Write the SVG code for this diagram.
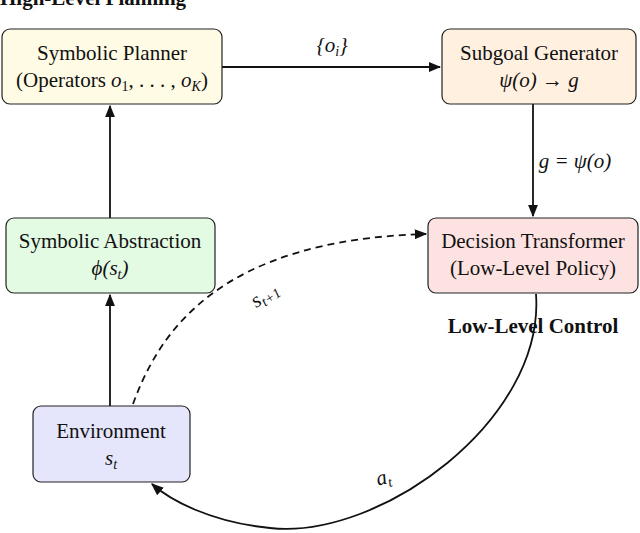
<svg xmlns="http://www.w3.org/2000/svg" width="640" height="533" viewBox="0 0 640 533">
<style>
.box{stroke:#222;stroke-width:1.2}
.t{font-family:"Liberation Serif",serif;font-size:21px;text-anchor:middle;fill:#111}
.m{font-style:italic}
.b{font-family:"Liberation Serif",serif;font-size:21px;font-weight:bold;fill:#111}
.c{fill:none;stroke:#111;stroke-width:1.8}
</style>
<defs><marker id="a" viewBox="0 0 10 10" refX="9" refY="5" markerWidth="7" markerHeight="7" orient="auto-start-reverse"><path d="M0,1 L10,5 L0,9 z" fill="#111"/></marker></defs>
<rect width="640" height="533" fill="#fff"/>
<text class="b" x="0" y="5">High-Level Planning</text>
<text class="b" x="533" y="333" text-anchor="middle">Low-Level Control</text>
<g id="connectors">
<line class="c" x1="222" y1="67" x2="440" y2="67" marker-end="url(#a)"/>
<line class="c" x1="533" y1="104" x2="533" y2="216" marker-end="url(#a)"/>
<line class="c" x1="110" y1="218" x2="110" y2="106" marker-end="url(#a)"/>
<line class="c" x1="110" y1="406" x2="110" y2="295" marker-end="url(#a)"/>
<path class="c" d="M133,404 C160,330 220,240 426,234" stroke-dasharray="7,5" marker-end="url(#a)"/>
<path class="c" d="M536,294 C545,420 380,540 270,528 C210,522 170,500 152,484" marker-end="url(#a)"/>
<text class="t m" x="332" y="52">{o<tspan font-size="14" dy="4">i</tspan><tspan dy="-4">}</tspan></text>
<text class="t m" x="575" y="168">g = ψ(o)</text>
<text class="t m" x="268" y="300" transform="rotate(-35 268 300)">s<tspan font-size="14" dy="4">t+1</tspan></text>
<text class="t m" x="385" y="484" transform="rotate(-15 385 484)">a<tspan font-size="14" dy="4">t</tspan></text>
</g>
<g id="planner"><rect class="box" x="2" y="29" width="220" height="75" rx="8" fill="#fffbe5"/>
<text class="t" x="112" y="60">Symbolic Planner</text>
<text class="t" x="112" y="87">(Operators <tspan class="m">o</tspan><tspan font-size="14" dy="4">1</tspan><tspan dy="-4">, . . . , </tspan><tspan class="m">o</tspan><tspan font-size="14" dy="4" class="m">K</tspan><tspan dy="-4">)</tspan></text></g>
<g id="subgoal"><rect class="box" x="442" y="29" width="194" height="75" rx="8" fill="#fff0e0"/>
<text class="t" x="539" y="60">Subgoal Generator</text>
<text class="t m" x="539" y="87">ψ(o) → g</text></g>
<g id="abstraction"><rect class="box" x="6" y="218" width="209" height="75" rx="8" fill="#e3fae3"/>
<text class="t" x="110" y="248">Symbolic Abstraction</text>
<text class="t m" x="110" y="275">ϕ(s<tspan font-size="14" dy="4">t</tspan><tspan dy="-4">)</tspan></text></g>
<g id="dt"><rect class="box" x="428" y="218" width="210" height="75" rx="8" fill="#fde2e2"/>
<text class="t" x="533" y="248">Decision Transformer</text>
<text class="t" x="533" y="275">(Low-Level Policy)</text></g>
<g id="env"><rect class="box" x="33" y="406" width="157" height="76" rx="8" fill="#e5e5fc"/>
<text class="t" x="111" y="438">Environment</text>
<text class="t m" x="111" y="465">s<tspan font-size="14" dy="4">t</tspan></text></g>
</svg>
